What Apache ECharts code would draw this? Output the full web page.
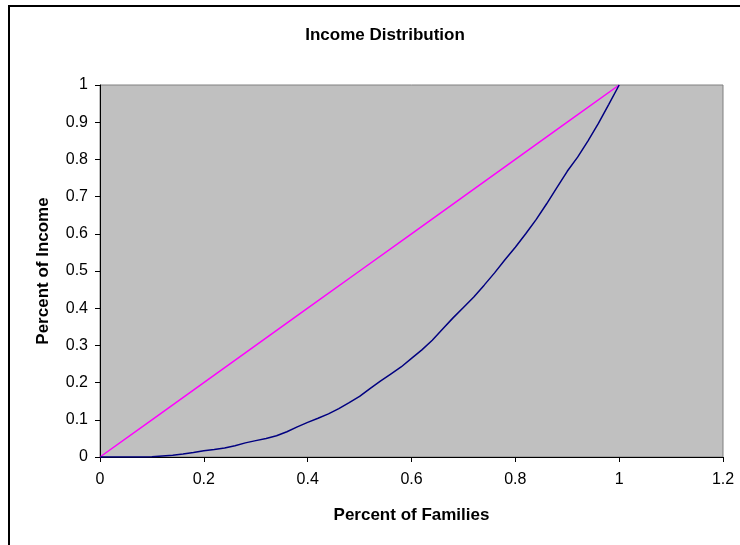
<!DOCTYPE html>
<html>
<head>
<meta charset="utf-8">
<script src="https://cdn.jsdelivr.net/npm/echarts@6/dist/echarts.min.js"></script>
<style>html,body{margin:0;padding:0;background:#fff;}#chart{width:740px;height:545px;}</style>
</head>
<body>
<div id="chart"></div>
<script>
var chartTitle = 'Income Distribution';
var xAxisTitle = 'Percent of Families';
var yAxisTitle = 'Percent of Income';

// share of families (x) for the Lorenz curve
var families = [0,0.02,0.04,0.06,0.08,0.10,0.12,0.14,0.16,0.18,0.20,0.22,0.24,0.26,0.28,0.30,0.32,0.34,0.36,0.38,0.40,0.42,0.44,0.46,0.48,0.50,0.52,0.54,0.56,0.58,0.60,0.62,0.64,0.66,0.68,0.70,0.72,0.74,0.76,0.78,0.80,0.82,0.84,0.86,0.88,0.90,0.92,0.94,0.96,0.98,1.00];
// cumulative share of income (Lorenz curve)
var income = [0,0,0,0,0,0.001,0.003,0.005,0.008,0.012,0.017,0.020,0.024,0.030,0.038,0.044,0.050,0.057,0.068,0.081,0.093,0.104,0.116,0.130,0.146,0.163,0.184,0.204,0.223,0.242,0.265,0.288,0.314,0.344,0.374,0.402,0.430,0.462,0.495,0.530,0.564,0.600,0.638,0.680,0.724,0.768,0.806,0.850,0.897,0.948,1.000];

// line of perfect equality
var equalityX = [0,0.1,0.2,0.3,0.4,0.5,0.6,0.7,0.8,0.9,1.0];
var equalityY = [0,0.1,0.2,0.3,0.4,0.5,0.6,0.7,0.8,0.9,1.0];

function pairs(xs, ys){ return xs.map(function(x,i){ return [x, ys[i]]; }); }

var font = 'Liberation Sans, Arial, sans-serif';
var chart = echarts.init(document.getElementById('chart'));
chart.setOption({
  animation: false,
  backgroundColor: '#ffffff',
  title: [
    {text: chartTitle, left: 380, top: 22, textAlign: 'center',
     textStyle: {fontFamily: font, fontSize: 17, fontWeight: 'bold', color: '#000'}}
  ],
  graphic: [
    {type: 'rect', shape: {x: 9, y: 6, width: 800, height: 600},
     style: {fill: 'none', stroke: '#000', lineWidth: 2}, silent: true, z: 100}
  ],
  grid: {left: 100, top: 85, right: 17, bottom: 88, show: true,
         backgroundColor: '#C0C0C0', borderColor: '#808080', borderWidth: 1},
  xAxis: {
    type: 'value', min: 0, max: 1.2, interval: 0.2,
    name: xAxisTitle, nameLocation: 'middle', nameGap: 50,
    nameTextStyle: {fontFamily: font, fontSize: 17, fontWeight: 'bold', color: '#000'},
    axisLine: {show: true, lineStyle: {color: '#000', width: 1}},
    axisTick: {show: true, length: 5, lineStyle: {color: '#000'}},
    splitLine: {show: false},
    axisLabel: {margin: 15, fontFamily: font, fontSize: 16, color: '#000',
      formatter: function(v){ return String(Math.round(v*10)/10); }}
  },
  yAxis: {
    type: 'value', min: 0, max: 1, interval: 0.1,
    name: yAxisTitle, nameLocation: 'middle', nameGap: 48, nameRotate: 90,
    nameTextStyle: {fontFamily: font, fontSize: 17, fontWeight: 'bold', color: '#000'},
    axisLine: {show: true, lineStyle: {color: '#000', width: 1}},
    axisTick: {show: true, length: 5, lineStyle: {color: '#000'}},
    splitLine: {show: false},
    axisLabel: {margin: 12, fontFamily: font, fontSize: 16, color: '#000',
      formatter: function(v){ return String(Math.round(v*10)/10); }}
  },
  series: [
    {type: 'line', name: 'Equality', data: pairs(equalityX, equalityY), showSymbol: false,
     lineStyle: {color: '#FF00FF', width: 1.5}, z: 3},
    {type: 'line', name: 'Lorenz', data: pairs(families, income), showSymbol: false,
     lineStyle: {color: '#000080', width: 1.5}, z: 4}
  ]
});
</script>
</body>
</html>
